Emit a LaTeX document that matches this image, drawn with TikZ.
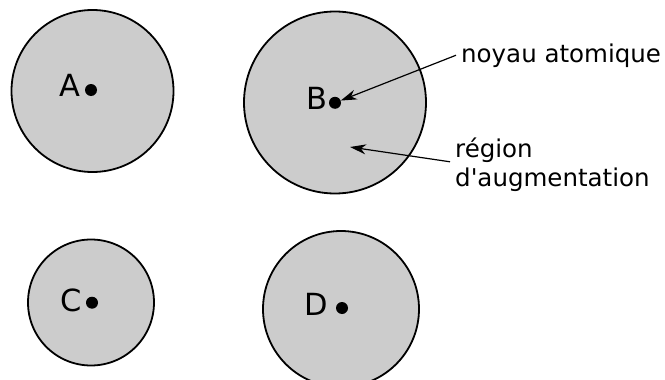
\documentclass[tikz,border=0pt]{standalone}
\usepackage{fontspec}
\setmainfont{DejaVu Sans}
\usetikzlibrary{arrows.meta,positioning}
\definecolor{shellcolor}{RGB}{204,204,204}

\begin{document}
\begin{tikzpicture}[
    x=1pt, y=-1pt,
    shell/.style={circle, draw, line width=1.8pt, fill=shellcolor, inner sep=0pt},
    nucleus/.style={circle, fill=black, minimum size=12pt, inner sep=0pt},
    letter/.style={font=\fontsize{30.5}{36}\selectfont, inner sep=0pt},
    caption/.style={font=\fontsize{24.5}{29.7}\selectfont, align=left, inner sep=5pt},
    arrow/.style={-{Stealth[length=16pt, width=10pt, inset=5pt]}, line width=1.2pt}
]
\useasboundingbox (0,0) rectangle (665,380);

% Atoms
\node[shell, minimum size=162pt] (shellA) at (92.5,91) {};
\node[shell, minimum size=182pt] (shellB) at (335,102.5) {};
\node[shell, minimum size=126pt] (shellC) at (91,302.5) {};
\node[shell, minimum size=156pt] (shellD) at (341,309) {};

% Nuclei
\node[nucleus] (dotA) at (91,90) {};
\node[nucleus] (dotB) at (335,102.8) {};
\node[nucleus] (dotC) at (92,302.7) {};
\node[nucleus] (dotD) at (342,308) {};

% Letters
\node[letter] (labelA) at (69.5,85) {A};
\node[letter] (labelB) at (316.5,98.7) {B};
\node[letter] (labelC) at (71.3,300) {C};
\node[letter] (labelD) at (316,304) {D};

% Captions
\node[caption, anchor=base west] (noyau) at (456,62) {noyau atomique};
\node[caption, anchor=north west] (region) at (450,132.4) {région\\d\textquotesingle augmentation};
\coordinate (regionTip) at (350,147);

\draw[arrow] (noyau.west) -- (dotB);
\draw[arrow] ([yshift=3pt]region.west) -- (regionTip);

\end{tikzpicture}
\end{document}
